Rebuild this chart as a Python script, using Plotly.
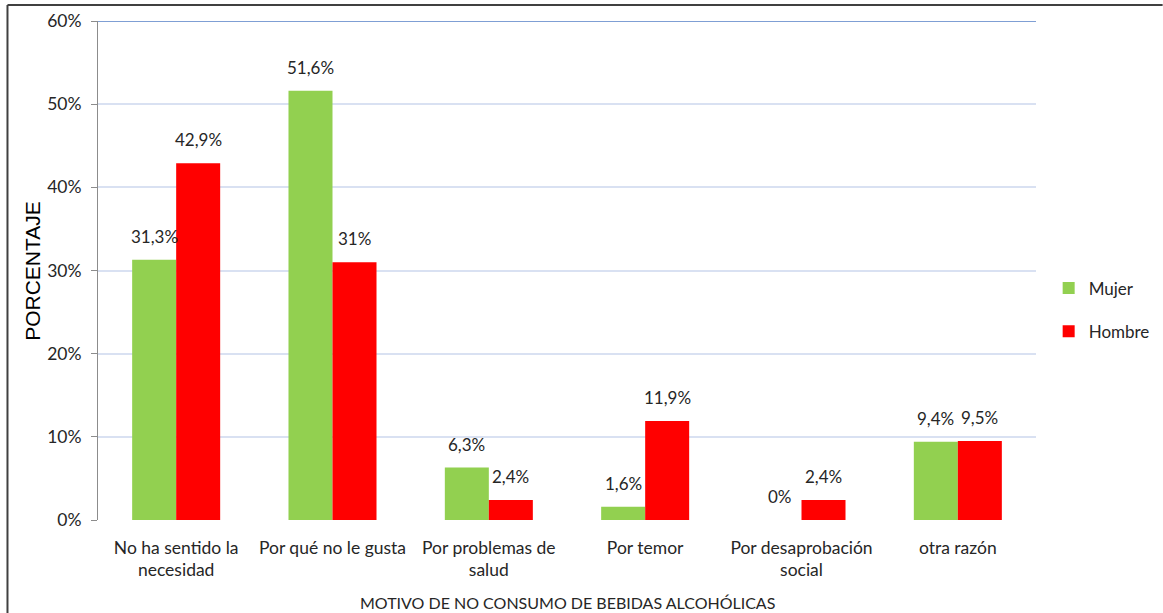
import plotly.graph_objects as go

categories = [
    "No ha sentido la<br>necesidad",
    "Por qué no le gusta",
    "Por problemas de<br>salud",
    "Por temor",
    "Por desaprobación<br>social",
    "otra razón",
]
mujer = [31.3, 51.6, 6.3, 1.6, 0, 9.4]
hombre = [42.9, 31, 2.4, 11.9, 2.4, 9.5]
y_ticks = [0, 10, 20, 30, 40, 50, 60]

GREEN = "#92d050"
RED = "#ff0000"
TEXT = "#262626"
BODY_FONT = "Lato"


def pct(v):
    return f"{v:g}".replace(".", ",") + "%"


fig = go.Figure()
fig.add_trace(go.Bar(
    name="Mujer", x=categories, y=mujer,
    marker=dict(color=GREEN, line=dict(width=0)),
    legendgroup="m",
))
fig.add_trace(go.Bar(
    name="Hombre", x=categories, y=hombre,
    marker=dict(color=RED, line=dict(width=0)),
    legendgroup="h",
))

# value labels above each bar
annotations = []
for series, dx in ((mujer, -22), (hombre, 22)):
    for cat, v in zip(categories, series):
        annotations.append(dict(
            x=cat, y=v, xref="x", yref="y", text=pct(v),
            showarrow=False, xshift=dx, yshift=11, yanchor="bottom",
            font=dict(family=BODY_FONT, size=17, color=TEXT),
        ))

annotations.append(dict(
    x=0.5, y=-0.166, xref="paper", yref="paper",
    text="MOTIVO DE NO CONSUMO DE BEBIDAS ALCOHÓLICAS",
    showarrow=False, yanchor="middle",
    font=dict(family=BODY_FONT, size=16, color=TEXT),
))
annotations.append(dict(
    x=-0.070, y=0.5, xref="paper", yref="paper", text="PORCENTAJE",
    showarrow=False, textangle=-90, xanchor="center",
    font=dict(family="Liberation Sans", size=21, color="#000000"),
))

shapes = [
    # highlighted top gridline
    dict(type="line", xref="paper", yref="y", x0=0, x1=1, y0=60, y1=60,
         line=dict(color="#7f9fd4", width=2), layer="above"),
    # outer frame (left and top edges)
    dict(type="line", xref="paper", yref="paper", x0=-0.0965, x1=-0.0965, y0=-0.2, y1=1.032,
         line=dict(color="#404040", width=2)),
    dict(type="line", xref="paper", yref="paper", x0=-0.0965, x1=1.135, y0=1.032, y1=1.032,
         line=dict(color="#404040", width=2)),
]

fig.update_layout(
    width=1163, height=613,
    margin=dict(l=98, r=127, t=21, b=93, autoexpand=False),
    paper_bgcolor="white", plot_bgcolor="white",
    barmode="group", bargap=0.437, bargroupgap=0,
    font=dict(family=BODY_FONT, size=17, color=TEXT),
    legend=dict(
        x=1.0135, y=0.50, xanchor="left", yanchor="top",
        font=dict(family=BODY_FONT, size=17, color=TEXT),
        tracegroupgap=18, traceorder="grouped",
        itemwidth=30,
    ),
    annotations=annotations,
    shapes=shapes,
)
fig.update_xaxes(
    showgrid=False, showline=False, ticks="", ticklabelstandoff=15,
    tickfont=dict(family=BODY_FONT, size=17.5, color=TEXT),
)
fig.update_yaxes(
    range=[0, 60], tickvals=y_ticks, ticktext=[f"{v}%" for v in y_ticks],
    showgrid=True, gridcolor="#d9e1f2", gridwidth=2,
    zeroline=False, showline=True, linecolor="#8c8c8c", linewidth=1,
    ticks="outside", ticklen=6, tickcolor="#8c8c8c", ticklabelstandoff=6,
    tickfont=dict(family=BODY_FONT, size=17.5, color=TEXT),
)

fig.write_html("out.html")
